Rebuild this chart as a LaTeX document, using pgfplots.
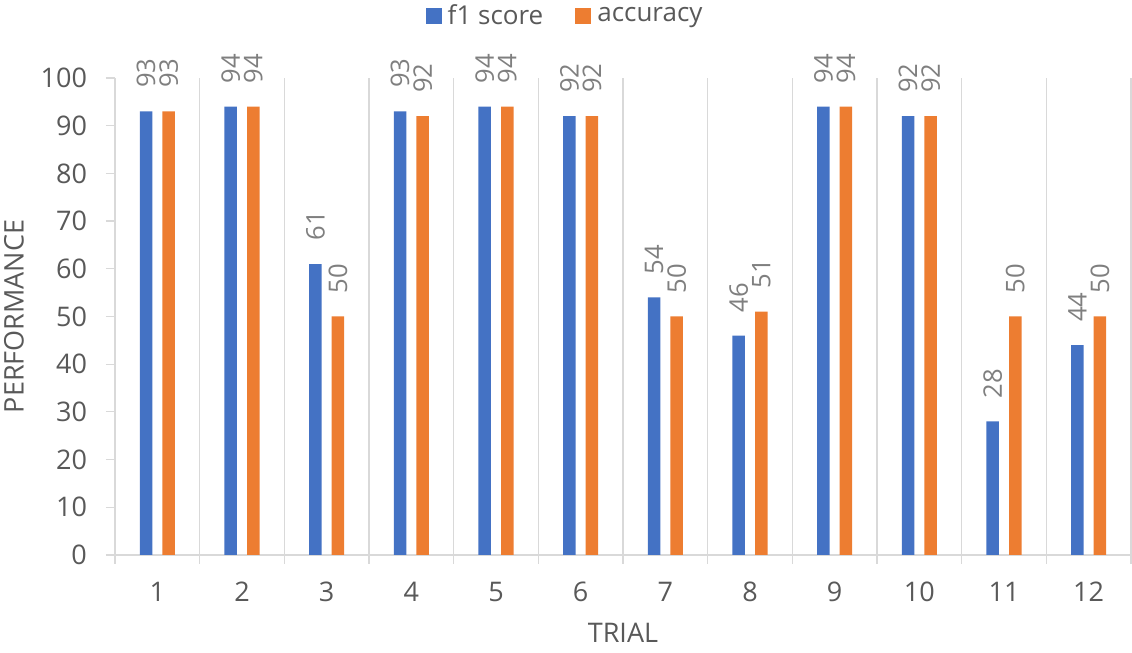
\documentclass[border=0pt]{standalone}
\usepackage{fontspec}
\setmainfont{Open Sans}
\usepackage{pgfplots}
\pgfplotsset{compat=1.18}

\definecolor{fone}{HTML}{4472C4}
\definecolor{acc}{HTML}{ED7D31}
\definecolor{gridc}{HTML}{D9D9D9}
\definecolor{txt}{HTML}{595959}
\definecolor{lbl}{HTML}{7F7F7F}

\begin{document}
\begin{tikzpicture}[x=1pt,y=1pt]
\path[use as bounding box] (0,0) rectangle (566,326.5);
\begin{axis}[
  at={(57.5pt,49pt)}, anchor=south west,
  scale only axis, width=508pt, height=238.5pt,
  /pgf/number format/assume math mode=true,
  ybar=5.05pt, bar width=6.25pt,
  xmin=0.5, xmax=12.5, ymin=0, ymax=100,
  axis x line*=bottom, axis y line*=left,
  axis line style={gridc, line width=0.6pt, -},
  xtick={0.5,1.5,...,12.5}, xticklabels={},
  xmajorgrids, grid style={gridc, line width=0.6pt},
  extra x ticks={1,2,...,12},
  extra x tick labels={1,2,3,4,5,6,7,8,9,10,11,12},
  extra x tick style={grid=none, major tick length=0pt},
  ytick={0,10,...,100},
  tick align=outside, major tick length=4.5pt,
  tick style={gridc, line width=0.6pt},
  ticklabel style={font=\fontsize{13.5}{16}\selectfont, text=txt},
  xticklabel style={yshift=-10pt},
  yticklabel style={xshift=-6pt},
  xlabel={TRIAL},
  ylabel={PERFORMANCE},
  label style={font=\fontsize{13.5}{16}\selectfont, text=txt},
  xlabel style={at={(axis description cs:0.5,-0.1635)}, anchor=center},
  ylabel style={at={(axis description cs:-0.0994,0.5)}, anchor=center},
  nodes near coords,
  every node near coord/.append style={font=\fontsize{12.8}{15}\selectfont,
    text=lbl, rotate=90, anchor=west, inner xsep=11.5pt},
  legend columns=2,
  legend style={at={(axis description cs:0.444,1.13)}, anchor=center,
    draw=none, font=\fontsize{13}{15}\selectfont, text=txt,
    /tikz/every even column/.append style={column sep=14pt},
    /tikz/every odd column/.append style={column sep=1pt}},
  legend image code/.code={\fill[#1] (0pt,-4pt) rectangle (8pt,4pt);},
]
\addplot[fill=fone, draw=none] coordinates {
  (1,93) (2,94) (3,61) (4,93) (5,94) (6,92)
  (7,54) (8,46) (9,94) (10,92) (11,28) (12,44)};
\addplot[fill=acc, draw=none] coordinates {
  (1,93) (2,94) (3,50) (4,92) (5,94) (6,92)
  (7,50) (8,51) (9,94) (10,92) (11,50) (12,50)};
\legend{f1 score, accuracy}
\end{axis}
\end{tikzpicture}
\end{document}
